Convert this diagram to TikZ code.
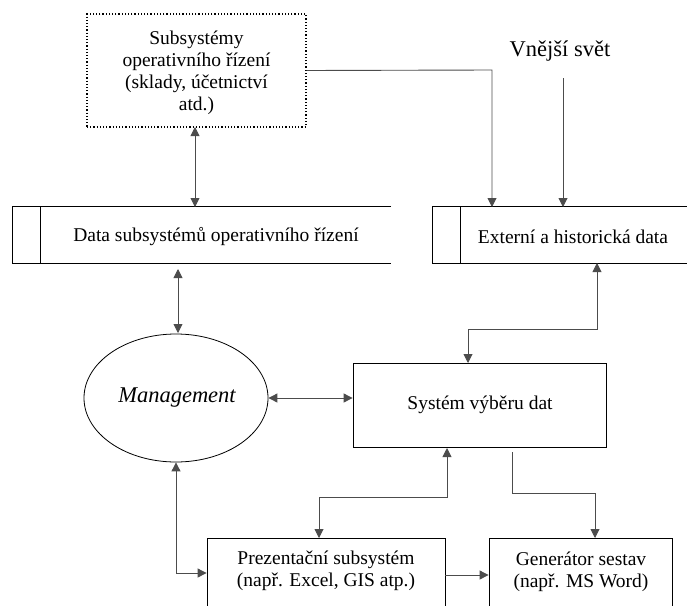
\documentclass[tikz,border=0pt]{standalone}
\usepackage{fontspec}
\setmainfont{Liberation Serif}
\newfontfamily\tmsfont{Liberation Serif}
\usetikzlibrary{arrows.meta,shapes.geometric,calc}
\begin{document}
\begin{tikzpicture}[x=1pt,y=-1pt,
  txt/.style={font=\tmsfont\fontsize{19.5}{22}\selectfont, align=center, inner sep=0pt},
  box/.style={draw=black, line width=0.8pt, inner sep=0pt},
  store/.style={inner sep=0pt},
  conn/.style={draw=black!70, line width=0.9pt},
  tip/.style={-{Triangle[length=9pt,width=9pt]}},
  tips/.style={{Triangle[length=9pt,width=9pt]}-{Triangle[length=9pt,width=9pt]}}]
\clip (0,0) rectangle (687,605);
\useasboundingbox (0,0) rectangle (687,605);

% operational subsystems (dotted box)
\node[box, dash pattern=on 1.2pt off 2pt, line width=1.1pt, minimum width=219pt, minimum height=113pt] (sub) at (196.5,70.5) {};
\node[txt] (subtxt) at (196.5,73) {Subsystémy\\operativního řízení\\(sklady, účetnictví\\atd.)};

% data stores
\node[store, minimum width=378pt, minimum height=56pt] (ds1) at (202,235) {};
\draw[line width=0.8pt] (ds1.north east) -- (ds1.north west) -- (ds1.south west) -- (ds1.south east);
\draw[line width=0.8pt] ($(ds1.north west)+(28,0)$) coordinate (ds1i) -- (ds1i |- ds1.south);
\node[txt] (ds1txt) at (216,237) {Data subsystémů operativního řízení};

\node[store, minimum width=262pt, minimum height=56pt] (ext) at (564,235) {};
\draw[line width=0.8pt] (ext.north east) -- (ext.north west) -- (ext.south west) -- (ext.south east);
\draw[line width=0.8pt] ($(ext.north west)+(28,0)$) coordinate (exti) -- (exti |- ext.south);
\node[txt] (exttxt) at (573,237) {Externí a historická data};

% outer world
\node[txt, font=\tmsfont\fontsize{22.5}{27}\selectfont] (vs) at (560,51) {Vnější svět};
\coordinate (vsout) at (563,78);

% management
\node[ellipse, draw=black, line width=0.8pt, minimum width=184pt, minimum height=128pt, inner sep=0pt] (mgmt) at (176,398) {};
\node[txt, font=\tmsfont\fontsize{22.5}{26}\selectfont\itshape] (mgmttxt) at (177,398) {Management};

% data selection system
\node[box, minimum width=253pt, minimum height=84pt] (sel) at (479.5,405) {};
\node[txt] (seltxt) at (480,405) {Systém výběru dat};

% presentation and report generator (cut at the lower edge)
\node[box, minimum width=238pt, minimum height=100pt, anchor=north] (pres) at (326,538) {};
\node[txt] (prestxt) at (326,571) {Prezentační subsystém\\(např. Excel, GIS atp.)};
\node[box, minimum width=183pt, minimum height=100pt, anchor=north] (gen) at (580.5,538) {};
\node[txt] (gentxt) at (581,572) {Generátor sestav\\(např. MS Word)};

% connectors
\draw[conn, tips] (195,127) -- (195,207);
\draw[conn, tip] (sub.east) -- (492,70) -- (492,207);
\draw[conn, tip] (vsout) -- (563,207);
\draw[conn, tips] (178,269) -- (178,333);
\draw[conn, tips] (mgmt.east) -- (sel.west |- mgmt.east);
\draw[conn, tips] (597,263) -- (597,329) -- (468,329) -- (468,363);
\draw[conn, tips] (447,448) -- (447,497) -- (319,497) -- (319,538);
\draw[conn, tip] (512,452) -- (512,493) -- (595,493) -- (595,538);
\draw[conn, tips] (mgmt.south) -- (mgmt.south |- 0,573) -- (pres.west |- 0,573);
\draw[conn, tip] (pres.east |- 0,575) -- (gen.west |- 0,575);
\end{tikzpicture}
\end{document}
